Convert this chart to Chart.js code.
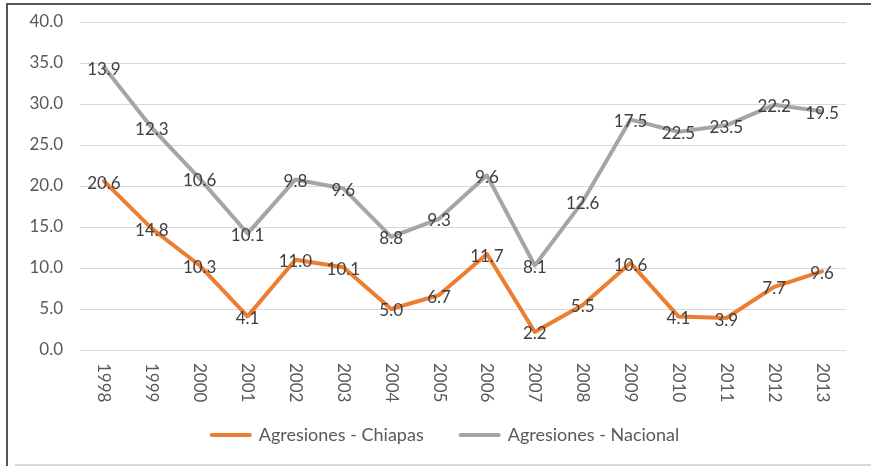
<!DOCTYPE html>
<html>
<head>
<meta charset="utf-8">
<script src="https://cdn.jsdelivr.net/npm/chart.js@4/dist/chart.umd.min.js"></script>
<style>
  html, body { margin: 0; padding: 0; background: #fff; }
  #wrap { position: relative; width: 871px; height: 466px; overflow: hidden; }
  #c { position: absolute; left: 0; top: 0; }
  .ln { position: absolute; }
</style>
</head>
<body>
<div id="wrap">
  <div class="ln" style="left:6px;top:3px;width:2px;height:463px;background:#555;"></div>
  <div class="ln" style="left:6px;top:3px;width:865px;height:2px;background:#555;"></div>
  <div class="ln" style="left:15px;top:464px;width:856px;height:2px;background:#d9d9d9;"></div>
  <canvas id="c" width="871" height="466"></canvas>
</div>
<script>
const categories = ['1998','1999','2000','2001','2002','2003','2004','2005','2006','2007','2008','2009','2010','2011','2012','2013'];
const chiapas = [20.6, 14.8, 10.3, 4.1, 11.0, 10.1, 5.0, 6.7, 11.7, 2.2, 5.5, 10.6, 4.1, 3.9, 7.7, 9.6];
const nacional = [13.9, 12.3, 10.6, 10.1, 9.8, 9.6, 8.8, 9.3, 9.6, 8.1, 12.6, 17.5, 22.5, 23.5, 22.2, 19.5];
const seriesNames = ['Agresiones - Chiapas', 'Agresiones - Nacional'];
const seriesColors = ['#ED7D31', '#A5A5A5'];
const yTicks = [0, 5, 10, 15, 20, 25, 30, 35, 40];

const FONT = 'Lato, "Liberation Sans", sans-serif';

const dataLabels = {
  id: 'dataLabels',
  afterDatasetsDraw(chart) {
    const ctx = chart.ctx;
    ctx.save();
    ctx.font = '17px ' + FONT;
    ctx.fillStyle = '#404040';
    ctx.textAlign = 'center';
    ctx.textBaseline = 'middle';
    chart.data.datasets.forEach((ds, di) => {
      const meta = chart.getDatasetMeta(di);
      meta.data.forEach((pt, i) => {
        ctx.fillText(ds.data[i].toFixed(1), pt.x, pt.y + 2);
      });
    });
    ctx.restore();
  }
};

const xLabels = {
  id: 'xLabels',
  afterDraw(chart) {
    const ctx = chart.ctx;
    const xs = chart.scales.x;
    ctx.save();
    ctx.font = '17px ' + FONT;
    ctx.fillStyle = '#595959';
    ctx.textAlign = 'left';
    ctx.textBaseline = 'middle';
    categories.forEach((c, i) => {
      const x = xs.getPixelForValue(i);
      ctx.save();
      ctx.translate(x, xs.top + 13);
      ctx.rotate(Math.PI / 2);
      ctx.fillText(c, 0, 0);
      ctx.restore();
    });
    ctx.restore();
  }
};

const legendDraw = {
  id: 'legendDraw',
  afterDraw(chart) {
    const ctx = chart.ctx;
    ctx.save();
    ctx.font = '18px ' + FONT;
    ctx.textBaseline = 'middle';
    ctx.textAlign = 'left';
    const box = 42, gap = 7, between = 35, cy = 435, center = 444.5;
    const dss = chart.data.datasets;
    const widths = dss.map(d => ctx.measureText(d.label).width);
    let total = 0;
    widths.forEach((w, i) => { total += box + gap + w + (i < widths.length - 1 ? between : 0); });
    let x = center - total / 2;
    dss.forEach((d, i) => {
      ctx.strokeStyle = d.borderColor;
      ctx.lineWidth = 4;
      ctx.lineCap = 'round';
      ctx.beginPath();
      ctx.moveTo(x + 2, cy);
      ctx.lineTo(x + box - 2, cy);
      ctx.stroke();
      ctx.fillStyle = '#595959';
      ctx.fillText(d.label, x + box + gap, cy);
      x += box + gap + widths[i] + between;
    });
    ctx.restore();
  }
};

new Chart(document.getElementById('c'), {
  type: 'line',
  data: {
    labels: categories,
    datasets: [
      { label: seriesNames[0], data: chiapas, borderColor: seriesColors[0], backgroundColor: seriesColors[0],
        borderWidth: 4, pointRadius: 0, tension: 0, fill: false, borderJoinStyle: 'round', borderCapStyle: 'round' },
      { label: seriesNames[1], data: nacional, borderColor: seriesColors[1], backgroundColor: seriesColors[1],
        borderWidth: 4, pointRadius: 0, tension: 0, fill: false, borderJoinStyle: 'round', borderCapStyle: 'round' }
    ]
  },
  options: {
    responsive: false,
    animation: false,
    devicePixelRatio: 1,
    layout: { padding: { left: 8, right: 25, top: 22, bottom: 0 } },
    scales: {
      x: {
        offset: true,
        grid: { display: false, drawTicks: false },
        border: { display: false },
        ticks: { display: false },
        afterFit(s) { s.height = 116; s.paddingLeft = 0; s.paddingRight = 0; }
      },
      y: {
        stacked: true,
        min: 0, max: 40,
        afterBuildTicks(s) { s.ticks = yTicks.map(v => ({ value: v })); },
        grid: { color: '#d9d9d9', lineWidth: 1, drawTicks: false },
        border: { display: false },
        ticks: { color: '#595959', font: { size: 17, family: FONT }, padding: 17,
                 callback: v => Number(v).toFixed(1) },
        afterFit(s) { s.width = 72; s.paddingTop = 0; s.paddingBottom = 0; }
      }
    },
    plugins: {
      tooltip: { enabled: false },
      legend: { display: false }
    }
  },
  plugins: [dataLabels, xLabels, legendDraw]
});
</script>
</body>
</html>
